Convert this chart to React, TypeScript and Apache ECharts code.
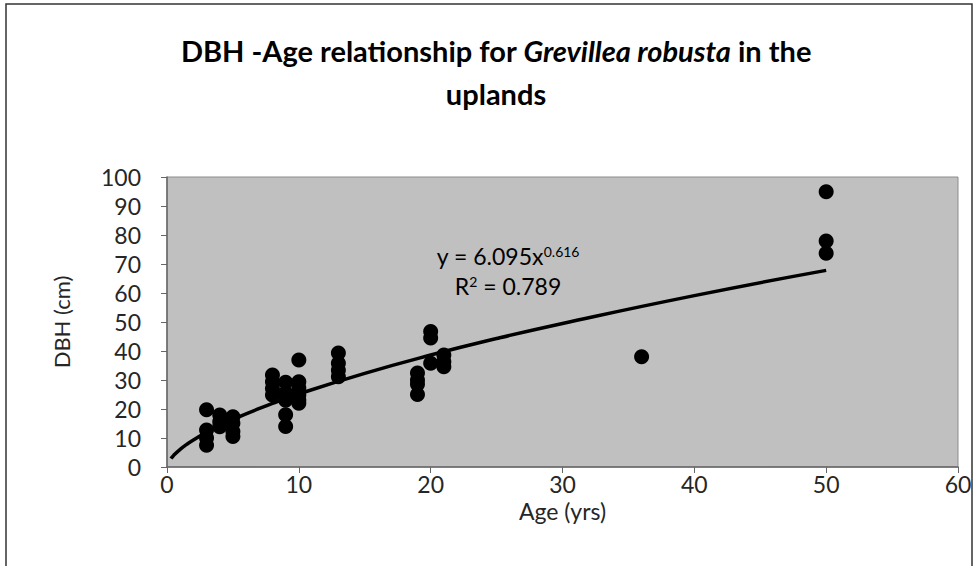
import React, { useEffect, useRef } from "react";
import * as echarts from "echarts";

const ages = [3, 3, 3, 3, 4, 4, 4, 5, 5, 5, 5, 8, 8, 8, 8, 9, 9, 9, 9, 9, 10, 10, 10, 10, 10, 10, 13, 13, 13, 13, 19, 19, 19, 19, 20, 20, 20, 21, 21, 21, 36, 50, 50, 50];
const dbh = [19.7, 12.8, 10, 7.5, 17.9, 15.6, 13.9, 17.3, 15.1, 12.2, 10.5, 31.7, 29.4, 27.1, 24.8, 29.2, 25.5, 23, 18, 14, 36.9, 29.4, 27.2, 24.8, 23.1, 22, 39.3, 35.8, 33.4, 31.1, 32.4, 30, 28.5, 25, 46.7, 44.5, 35.8, 38.6, 36.3, 34.6, 38, 94.9, 77.9, 73.7];

// power trend line (y = 6.095x^0.616)
const trendAges = [0.3, 0.5, 1, 1.5, 2, 3, 5, 8, 10, 15, 20, 25, 30, 40, 50];
const trendDbh = [2.9, 4.0, 6.1, 7.8, 9.3, 12.0, 16.4, 21.9, 25.2, 32.3, 38.6, 44.3, 49.5, 59.1, 67.8];

const xTicks = [0, 10, 20, 30, 40, 50, 60];
const yTicks = [0, 10, 20, 30, 40, 50, 60, 70, 80, 90, 100];

const FONT = "Lato, 'Noto Sans', sans-serif";
const TXT = "#262626";

export default function App() {
  const ref = useRef<HTMLDivElement>(null);
  useEffect(() => {
    document.body.style.margin = "0";
    if (!ref.current) return;
    const chart = echarts.init(ref.current, undefined, { renderer: "svg" });
    const rich = {
      m: { fontFamily: FONT, fontSize: 23, color: TXT, lineHeight: 22, verticalAlign: "bottom" },
      s: { fontFamily: FONT, fontSize: 14, color: TXT, lineHeight: 14, padding: [0, 0, 9, 0], verticalAlign: "bottom" },
    };
    const option = {
      animation: false,
      backgroundColor: "#ffffff",
      textStyle: { fontFamily: FONT },
      grid: {
        left: 167,
        top: 177,
        right: 19,
        bottom: 99,
        show: true,
        backgroundColor: "#c0c0c0",
        borderColor: "#8c8c8c",
        borderWidth: 1,
      },
      xAxis: {
        type: "value",
        min: xTicks[0],
        max: xTicks[xTicks.length - 1],
        interval: 10,
        name: "Age (yrs)",
        nameLocation: "middle",
        nameGap: 31,
        nameTextStyle: { fontFamily: FONT, fontSize: 23, color: TXT },
        axisLine: { show: true, lineStyle: { color: "#666", width: 1.5 } },
        axisTick: { show: true, length: 6, lineStyle: { color: "#666" } },
        axisLabel: { fontFamily: FONT, fontSize: 23, color: TXT, margin: 5 },
        splitLine: { show: false },
      },
      yAxis: {
        type: "value",
        min: yTicks[0],
        max: yTicks[yTicks.length - 1],
        interval: 10,
        name: "DBH (cm)",
        nameLocation: "middle",
        nameGap: 95,
        nameRotate: 90,
        nameTextStyle: { fontFamily: FONT, fontSize: 22, color: TXT },
        axisLine: { show: true, lineStyle: { color: "#666", width: 1.5 } },
        axisTick: { show: true, length: 6, lineStyle: { color: "#666" } },
        axisLabel: { fontFamily: FONT, fontSize: 23, color: TXT, margin: 26 },
        splitLine: { show: false },
      },
      series: [
        {
          type: "line",
          data: trendAges.map((a, i) => [a, trendDbh[i]]),
          smooth: true,
          showSymbol: false,
          symbol: "none",
          lineStyle: { color: "#000", width: 3.5 },
          z: 2,
        },
        {
          type: "scatter",
          data: ages.map((a, i) => [a, dbh[i]]),
          symbol: "circle",
          symbolSize: 15,
          itemStyle: { color: "#000", opacity: 1 },
          z: 3,
        },
      ],
      graphic: [
        {
          type: "rect",
          shape: { x: 6, y: 4, width: 966, height: 580 },
          style: { fill: "none", stroke: "#333", lineWidth: 1.5 },
          silent: true,
          z: -1,
        },
        {
          type: "text",
          x: 496,
          y: 50,
          style: {
            text: "{b|DBH -Age relationship for }{i|Grevillea robusta}{b| in the}",
            textAlign: "center",
            textVerticalAlign: "middle",
            rich: {
              b: { fontFamily: FONT, fontSize: 29, fontWeight: "bold", color: "#000" },
              i: { fontFamily: FONT, fontSize: 29, fontWeight: "bold", fontStyle: "italic", color: "#000" },
            },
          },
        },
        {
          type: "text",
          x: 496,
          y: 93,
          style: {
            text: "uplands",
            textAlign: "center",
            textVerticalAlign: "middle",
            fontFamily: FONT,
            fontSize: 29,
            fontWeight: "bold",
            fill: "#000",
          },
        },
        {
          type: "text",
          x: 508,
          y: 256,
          style: {
            text: "{m|y = 6.095x}{s|0.616}",
            textAlign: "center",
            textVerticalAlign: "middle",
            rich,
          },
        },
        {
          type: "text",
          x: 508,
          y: 286,
          style: {
            text: "{m|R}{s|2}{m| = 0.789}",
            textAlign: "center",
            textVerticalAlign: "middle",
            rich,
          },
        },
      ],
    };
    chart.setOption(option as any);
    return () => chart.dispose();
  }, []);
  return <div ref={ref} style={{ width: 977, height: 566 }} />;
}
